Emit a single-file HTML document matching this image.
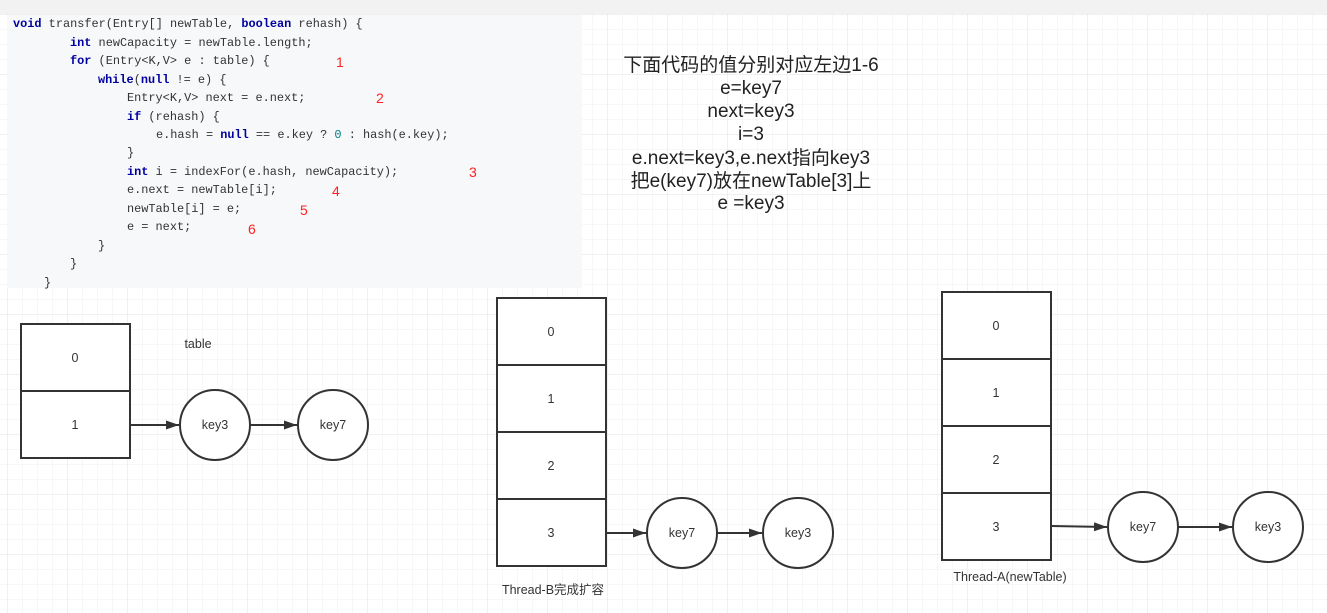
<!DOCTYPE html>
<html><head><meta charset="utf-8"><style>
body{margin:0;width:1327px;height:613px;overflow:hidden;background:#fff}
svg{display:block}
.code{font-family:"Liberation Mono",monospace;font-size:11.9px;fill:#333}
.kw{fill:#0000a0;font-weight:bold}
.red{fill:#f22;font-family:"Liberation Sans",sans-serif;font-size:14px}
.lbl{font-family:"Liberation Sans","Noto Sans CJK SC",sans-serif;font-size:12.5px;fill:#333;text-anchor:middle}
.big{font-family:"Liberation Sans","Noto Sans CJK SC",sans-serif;font-size:19px;fill:#222;text-anchor:middle}
</style></head><body>
<svg width="1327" height="613" xmlns="http://www.w3.org/2000/svg">
<defs>
<pattern id="minor" x="7" y="14" width="15" height="15" patternUnits="userSpaceOnUse"><path d="M0 0H15M0 0V15" stroke="#efefef" stroke-width="1" fill="none"/></pattern>
<pattern id="major" x="7" y="14" width="60" height="60" patternUnits="userSpaceOnUse"><path d="M0 0H60M0 0V60" stroke="#e2e2e2" stroke-width="1" fill="none"/></pattern>
<marker id="ar" markerWidth="13" markerHeight="9" refX="13" refY="4.5" orient="auto" markerUnits="userSpaceOnUse"><path d="M0 0L13 4.5L0 9z" fill="#333"/></marker>
</defs>
<rect x="0" y="14" width="1327" height="599" fill="url(#minor)"/>
<rect x="0" y="14" width="1327" height="599" fill="url(#major)"/>
<rect x="0" y="0" width="1327" height="14" fill="#f2f2f2"/>
<rect x="7" y="15" width="575" height="273" fill="#f6f8fa"/>
<g class="code">
<text x="13" y="27"><tspan class="kw">void</tspan> transfer(Entry[] newTable, <tspan class="kw">boolean</tspan> rehash) {</text>
<text x="70" y="46"><tspan class="kw">int</tspan> newCapacity = newTable.length;</text>
<text x="70" y="64"><tspan class="kw">for</tspan> (Entry&lt;K,V&gt; e : table) {</text>
<text x="98" y="83"><tspan class="kw">while</tspan>(<tspan class="kw">null</tspan> != e) {</text>
<text x="127" y="101">Entry&lt;K,V&gt; next = e.next;</text>
<text x="127" y="120"><tspan class="kw">if</tspan> (rehash) {</text>
<text x="156" y="138">e.hash = <tspan class="kw">null</tspan> == e.key ? <tspan style="fill:#008080">0</tspan> : hash(e.key);</text>
<text x="127" y="156">}</text>
<text x="127" y="175"><tspan class="kw">int</tspan> i = indexFor(e.hash, newCapacity);</text>
<text x="127" y="193">e.next = newTable[i];</text>
<text x="127" y="212">newTable[i] = e;</text>
<text x="127" y="230">e = next;</text>
<text x="98" y="249">}</text>
<text x="70" y="267">}</text>
<text x="44" y="286">}</text>
</g>
<text class="red" x="336" y="67">1</text>
<text class="red" x="376" y="103">2</text>
<text class="red" x="469" y="177">3</text>
<text class="red" x="332" y="196">4</text>
<text class="red" x="300" y="215">5</text>
<text class="red" x="248" y="234">6</text>
<g class="big">
<text x="751" y="71">下面代码的值分别对应左边1-6</text>
<text x="751" y="94">e=key7</text>
<text x="751" y="117">next=key3</text>
<text x="751" y="140">i=3</text>
<text x="751" y="164">e.next=key3,e.next指向key3</text>
<text x="751" y="187">把e(key7)放在newTable[3]上</text>
<text x="751" y="209">e =key3</text>
</g>
<g fill="#fff" stroke="#333" stroke-width="2">
<rect x="21" y="324" width="109" height="67"/><rect x="21" y="391" width="109" height="67"/>
<rect x="497" y="298" width="109" height="67"/><rect x="497" y="365" width="109" height="67"/><rect x="497" y="432" width="109" height="67"/><rect x="497" y="499" width="109" height="67"/>
<rect x="942" y="292" width="109" height="67"/><rect x="942" y="359" width="109" height="67"/><rect x="942" y="426" width="109" height="67"/><rect x="942" y="493" width="109" height="67"/>
<circle cx="215" cy="425" r="35"/><circle cx="333" cy="425" r="35"/>
<circle cx="682" cy="533" r="35"/><circle cx="798" cy="533" r="35"/>
<circle cx="1143" cy="527" r="35"/><circle cx="1268" cy="527" r="35"/>
</g>
<g stroke="#333" stroke-width="2" marker-end="url(#ar)">
<line x1="130" y1="425" x2="179" y2="425"/><line x1="250" y1="425" x2="297" y2="425"/>
<line x1="606" y1="533" x2="646" y2="533"/><line x1="717" y1="533" x2="762" y2="533"/>
<line x1="1051" y1="526" x2="1107" y2="527"/><line x1="1178" y1="527" x2="1232" y2="527"/>
</g>
<g class="lbl">
<text x="75" y="362">0</text><text x="75" y="429">1</text>
<text x="551" y="336">0</text><text x="551" y="403">1</text><text x="551" y="470">2</text><text x="551" y="537">3</text>
<text x="996" y="330">0</text><text x="996" y="397">1</text><text x="996" y="464">2</text><text x="996" y="531">3</text>
<text x="215" y="429">key3</text><text x="333" y="429">key7</text>
<text x="682" y="537">key7</text><text x="798" y="537">key3</text>
<text x="1143" y="531">key7</text><text x="1268" y="531">key3</text>
<text x="198" y="348">table</text>
<text x="553" y="594">Thread-B完成扩容</text>
<text x="1010" y="581">Thread-A(newTable)</text>
</g>
</svg>
</body></html>
